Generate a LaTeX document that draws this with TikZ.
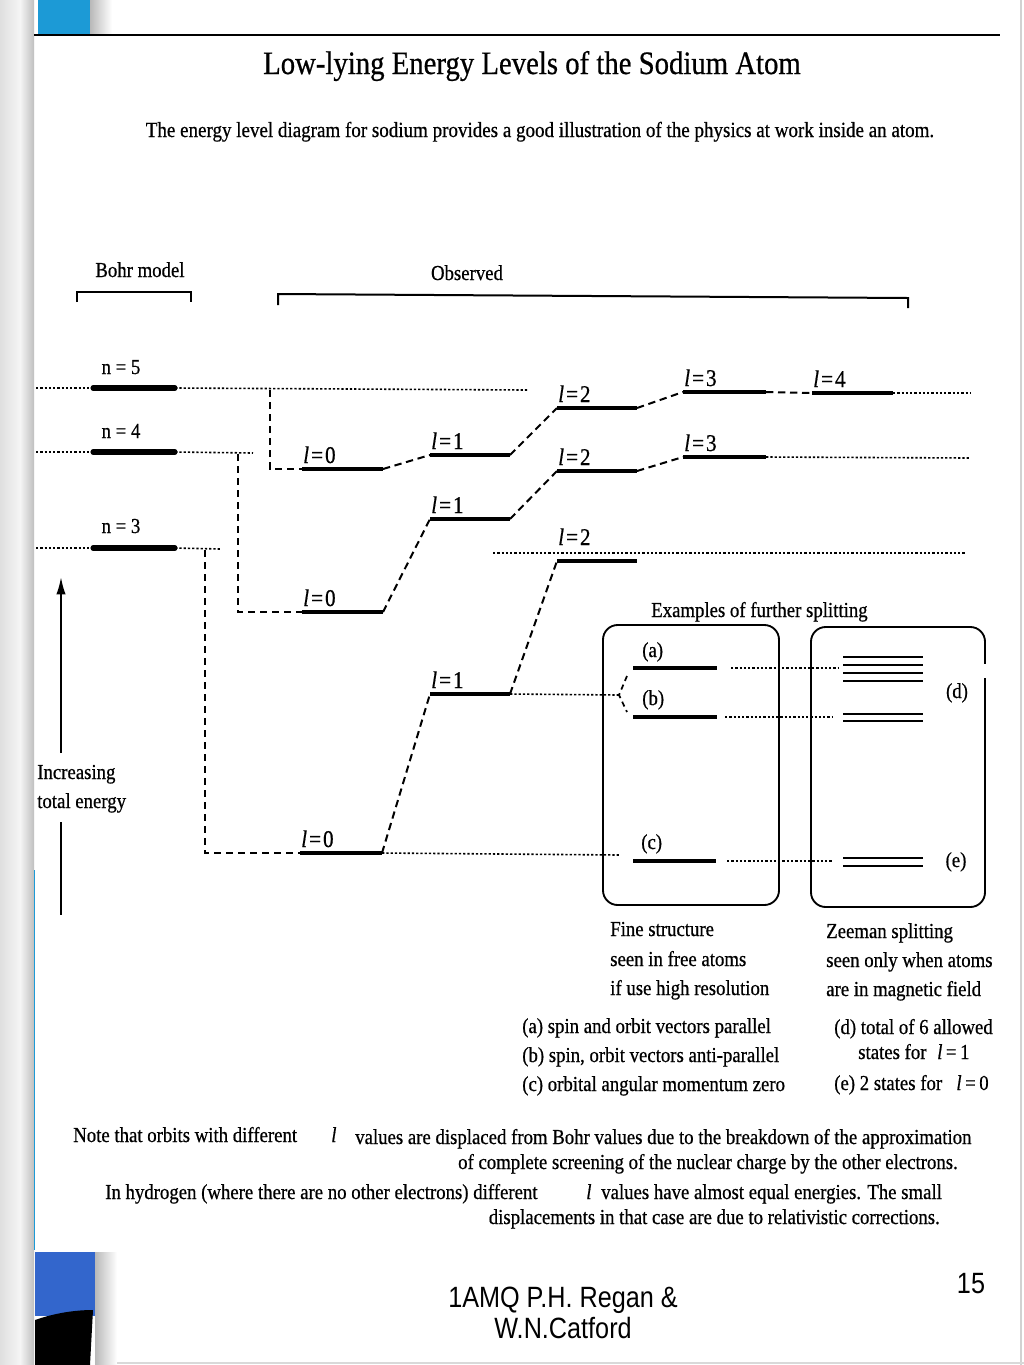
\documentclass[tikz,border=0pt]{standalone}
\usepackage{fontspec}
\setmainfont{Liberation Serif}[FakeStretch=0.88, FakeBold=0.6]
\newfontfamily\footfont{Liberation Sans}[FakeStretch=0.86]
\usetikzlibrary{arrows.meta}
\definecolor{topblue}{HTML}{1C9AD6}
\definecolor{botblue}{HTML}{3366CC}
\newcommand{\lval}[1]{{\itshape l}\kern1.5pt=\kern1.5pt#1}
\begin{document}
\begin{tikzpicture}[x=0.75pt,y=-0.75pt,
  bohr/.style={line width=3.8pt, line cap=round},
  lvl/.style={line width=3pt},
  zee/.style={line width=2.2pt},
  conn/.style={line width=1.5pt, dash pattern=on 5.5pt off 3.5pt},
  dotl/.style={line width=1.2pt, dash pattern=on 1.7pt off 1.5pt},
  brk/.style={line width=1.5pt},
  box/.style={draw, line width=1.4pt, rounded corners=11pt},
  txt/.style={font=\fontsize{16}{19}\selectfont, inner sep=0pt, anchor=base west},
  ltxt/.style={font=\fontsize{18}{21}\selectfont, inner sep=0pt, anchor=base west},
  foottxt/.style={font=\footfont\fontsize{22}{26}\selectfont, inner sep=0pt, anchor=base},
]
\useasboundingbox (0,0) rectangle (1024,1365);
\fill[white] (0,0) rectangle (1024,1365);
% ---------- slide decoration ----------
\shade[left color=gray!25, right color=gray!8] (0,0) rectangle (20,1365);
\shade[left color=gray!8, right color=gray!50] (20,0) rectangle (34,1365);
\fill[topblue] (38,0) rectangle (90,34);
\shade[left color=gray!55, right color=white] (90,0) rectangle (112,34);
\fill[botblue] (35,1252) rectangle (95,1316);
\fill[black] (35,1320) .. controls (55,1313) and (75,1310) .. (93,1310) -- (90,1365) -- (35,1365) -- cycle;
\shade[left color=gray!55, right color=white] (95,1252) rectangle (117,1365);
\draw[topblue, line width=1pt] (34.5,870) -- (34.5,1250);
\draw[line width=0.8pt] (34,35) -- (1000,35);
\draw[gray!35, line width=1pt] (1021,0) -- (1021,1365);
\draw[gray!30, line width=0.8pt] (117,1363) -- (1024,1363);

% ---------- titles ----------
\node[font=\fontsize{24.5}{29}\selectfont, inner sep=0pt, anchor=base] (title) at (532,74) {Low-lying Energy Levels of the Sodium Atom};
\node[txt, anchor=base, font=\fontsize{16.2}{19}\selectfont] (sub) at (540,137) {The energy level diagram for sodium provides a good illustration of the physics at work inside an atom.};

\node[txt, anchor=base] (bohrlab) at (140,277) {Bohr model};
\node[txt, anchor=base] (obslab) at (467,280) {Observed};
\draw[brk] (77,302) -- (77,292) -- (191,292) -- (191,302);
\draw[brk] (278,305) -- (278,294) -- (908,298) -- (908,308);

% ---------- Bohr levels ----------
\coordinate (b5a) at (93,388); \coordinate (b5b) at (175,388);
\coordinate (b4a) at (93,452); \coordinate (b4b) at (175,452);
\coordinate (b3a) at (93,548); \coordinate (b3b) at (175,548);
\draw[bohr] (b5a) -- (b5b);
\draw[bohr] (b4a) -- (b4b);
\draw[bohr] (b3a) -- (b3b);
\node[txt, anchor=base] (n5) at (121,374) {n = 5};
\node[txt, anchor=base] (n4) at (121,438) {n = 4};
\node[txt, anchor=base] (n3) at (121,533) {n = 3};
\coordinate (e5) at (36,388); \coordinate (e4) at (36,452); \coordinate (e3) at (36,548);
\draw[dotl] (e5) -- (b5a); \draw[dotl] (e4) -- (b4a); \draw[dotl] (e3) -- (b3a);

% ---------- observed levels: n=5 series ----------
\coordinate (a50) at (302,469); \coordinate (z50) at (383,469);
\coordinate (a51) at (430,455); \coordinate (z51) at (510,455);
\coordinate (a52) at (557,408); \coordinate (z52) at (637,408);
\coordinate (a53) at (683,392); \coordinate (z53) at (766,392);
\coordinate (a54) at (812,393); \coordinate (z54) at (893,393);
% n=4 series
\coordinate (a40) at (302,612); \coordinate (z40) at (383,612);
\coordinate (a41) at (430,519); \coordinate (z41) at (510,519);
\coordinate (a42) at (557,471); \coordinate (z42) at (637,471);
\coordinate (a43) at (683,457); \coordinate (z43) at (766,457);
% n=3 series
\coordinate (a30) at (300,853); \coordinate (z30) at (382,853);
\coordinate (a31) at (430,694); \coordinate (z31) at (510,694);
\coordinate (a32) at (557,561); \coordinate (z32) at (637,561);

\foreach \s in {50,51,52,53,54,40,41,42,43,30,31,32}
  \draw[lvl] (a\s) -- (z\s);

% dotted from Bohr levels and dashed drops
\coordinate (d5) at (527,390); \coordinate (k5) at (270,390); \coordinate (k5b) at (270,469);
\draw[dotl] (b5b) -- (d5);
\draw[conn] (k5) -- (k5b) -- (a50);
\coordinate (d4) at (253,453); \coordinate (k4) at (238,454); \coordinate (k4b) at (238,612);
\draw[dotl] (b4b) -- (d4);
\draw[conn] (k4) -- (k4b) -- (a40);
\coordinate (d3) at (220,549); \coordinate (k3) at (205,550); \coordinate (k3b) at (205,853);
\draw[dotl] (b3b) -- (d3);
\draw[conn] (k3) -- (k3b) -- (a30);

% dashed connectors between l levels
\draw[conn] (z50) -- (a51); \draw[conn] (z51) -- (a52); \draw[conn] (z52) -- (a53); \draw[conn] (z53) -- (a54);
\draw[conn] (z40) -- (a41); \draw[conn] (z41) -- (a42); \draw[conn] (z42) -- (a43);
\draw[conn] (z30) -- (a31); \draw[conn] (z31) -- (a32);

% dotted continuations
\coordinate (r5) at (970,393); \draw[dotl] (z54) -- (r5);
\coordinate (r4) at (970,458); \draw[dotl] (z43) -- (r4);
\coordinate (h3a) at (493,553); \coordinate (h3b) at (965,553); \draw[dotl] (h3a) -- (h3b);

% level labels
\node[ltxt] (L50) at (303,463) {\lval{0}};
\node[ltxt] (L51) at (431,449) {\lval{1}};
\node[ltxt] (L52) at (558,402) {\lval{2}};
\node[ltxt] (L53) at (684,386) {\lval{3}};
\node[ltxt] (L54) at (813,387) {\lval{4}};
\node[ltxt] (L40) at (303,606) {\lval{0}};
\node[ltxt] (L41) at (431,513) {\lval{1}};
\node[ltxt] (L42) at (558,465) {\lval{2}};
\node[ltxt] (L43) at (684,451) {\lval{3}};
\node[ltxt] (L30) at (301,847) {\lval{0}};
\node[ltxt] (L31) at (431,688) {\lval{1}};
\node[ltxt] (L32) at (558,545) {\lval{2}};

% ---------- energy arrow ----------
\node[txt] (energy1) at (37,779) {Increasing};
\node[txt] (energy2) at (37,808) {total energy};
\coordinate (arrtop) at (61,577); \coordinate (arrbot) at (61,915);
\coordinate (arrm1) at (61,753); \coordinate (arrm2) at (61,822);
\draw[line width=1.5pt, -{Latex[length=13pt,width=7pt]}] (arrm1) -- (arrtop);
\draw[line width=1.5pt] (arrm2) -- (arrbot);

% ---------- further splitting ----------
\node[txt] (examples) at (651,617) {Examples of further splitting};
\draw[box] (603,625) rectangle (779,905);
\draw[box] (811,627) rectangle (985,907);
\fill[white] (982,664) rectangle (989,678);

\coordinate (fa1) at (633,668); \coordinate (fa2) at (717,668);
\coordinate (fb1) at (633,717); \coordinate (fb2) at (717,717);
\coordinate (fc1) at (633,861); \coordinate (fc2) at (716,861);
\draw[lvl] (fa1) -- (fa2); \draw[lvl] (fb1) -- (fb2); \draw[lvl] (fc1) -- (fc2);
\node[txt] (la) at (642,657) {(a)};
\node[txt] (lb) at (642,705) {(b)};
\node[txt] (lc) at (641,849) {(c)};

% fork from l=1 of n=3
\coordinate (fork) at (619,695); \coordinate (forku) at (627,676); \coordinate (forkd) at (627,712);
\draw[dotl] (z31) -- (fork);
\draw[line width=1.3pt, dash pattern=on 4pt off 3pt] (forku) -- (fork) -- (forkd);
\coordinate (c3end) at (620,855);
\draw[dotl] (z30) -- (c3end);

% dotted to Zeeman
\coordinate (za) at (838,668); \coordinate (zb) at (833,717); \coordinate (zc) at (833,861);
\coordinate (sa) at (731,668); \coordinate (sb) at (725,717); \coordinate (sc) at (727,861);
\draw[dotl] (sa) -- (za); \draw[dotl] (sb) -- (zb); \draw[dotl] (sc) -- (zc);

\foreach \y in {657,665,673,681,714,721,858,866}
  \draw[zee] (843,\y) -- (923,\y);
\node[txt, anchor=base] (ld) at (957,698) {(d)};
\node[txt, anchor=base] (le) at (956,867) {(e)};

% ---------- captions ----------
\node[txt] (fs1) at (610,936) {Fine structure};
\node[txt] (fs2) at (610,966) {seen in free atoms};
\node[txt] (fs3) at (610,995) {if use high resolution};
\node[txt] (zs1) at (826,938) {Zeeman splitting};
\node[txt] (zs2) at (826,967) {seen only when atoms};
\node[txt] (zs3) at (826,996) {are in magnetic field};

\node[txt] (ka) at (522,1033) {(a) spin and orbit vectors parallel};
\node[txt] (kb) at (522,1062) {(b) spin, orbit vectors anti-parallel};
\node[txt] (kc) at (522,1091) {(c) orbital angular momentum zero};
\node[txt] (kd) at (834,1034) {(d) total of 6 allowed};
\node[txt] (kd2) at (858,1059) {states for\enspace{\itshape l}\,=\,1};
\node[txt] (ke) at (834,1090) {(e) 2 states for\enspace\,{\itshape l}\,=\,0};

% ---------- notes ----------
\node[txt] (note1a) at (73,1142) {Note that orbits with different};
\node[txt] (note1l) at (331,1142) {\itshape l};
\node[txt] (note1b) at (355,1144) {values are displaced from Bohr values due to the breakdown of the approximation};
\node[txt, anchor=base east] (note2) at (958,1169) {of complete screening of the nuclear charge by the other electrons.};
\node[txt] (note3a) at (105,1199) {In hydrogen (where there are no other electrons) different};
\node[txt] (note3l) at (586,1199) {\itshape l};
\node[txt] (note3b) at (601,1199) {values have almost equal energies. The small};
\node[txt, anchor=base east] (note4) at (940,1224) {displacements in that case are due to relativistic corrections.};

% ---------- footer ----------
\node[foottxt] (foot1) at (563,1307) {1AMQ P.H. Regan \&};
\node[foottxt] (foot2) at (563,1338) {W.N.Catford};
\node[foottxt] (pnum) at (971,1293) {15};
\end{tikzpicture}
\end{document}
